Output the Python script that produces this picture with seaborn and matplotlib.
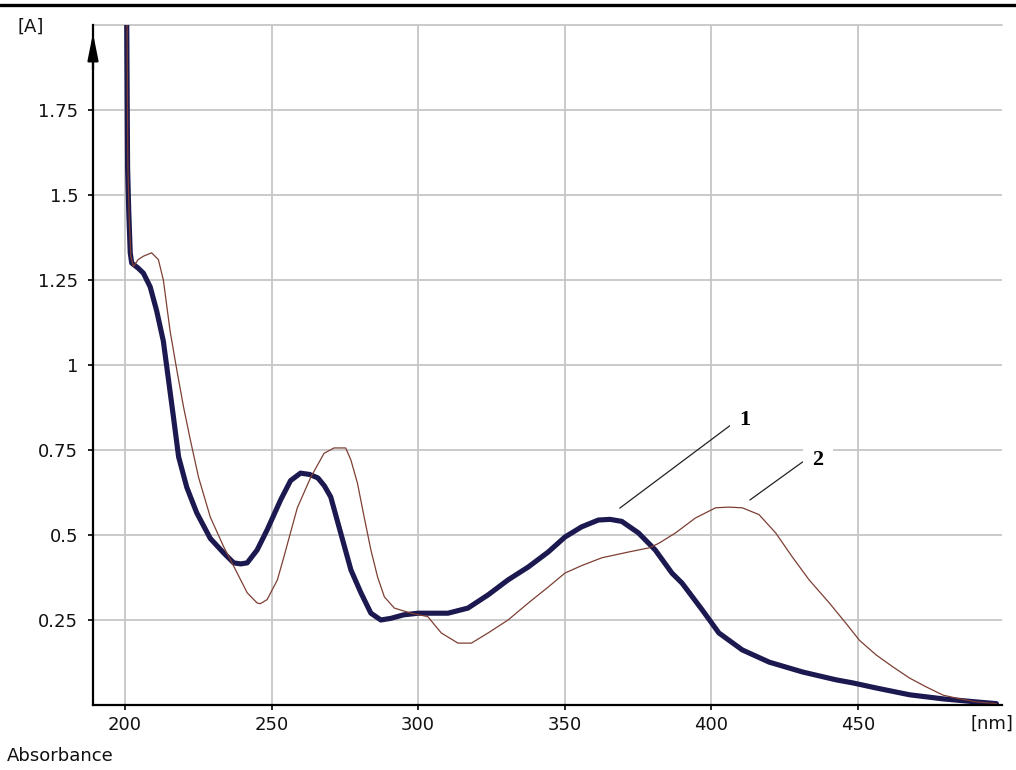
import numpy as np
import pandas as pd
import matplotlib
matplotlib.use("Agg")
import matplotlib.pyplot as plt
import seaborn as sns
from matplotlib.lines import Line2D

# ---- data ----
wl_1 = [200.6, 200.9, 201.3, 201.8, 202.3, 204.5, 206.3, 208.6, 210.8, 213.1,
        214.8, 216.5, 218.3, 221.1, 224.5, 229.1, 233.7, 237.1, 239.5, 241.7,
        245.1, 248.5, 253.1, 256.5, 259.9, 263.0, 265.8, 268.0, 270.2, 273.6,
        277.1, 280.5, 283.9, 287.3, 290.8, 295.0, 300.0, 305.0, 310.2, 317.0,
        323.9, 330.7, 337.6, 344.4, 350.1, 355.8, 361.5, 365.5, 369.5, 375.2,
        380.9, 386.6, 390.1, 396.9, 402.6, 410.6, 419.8, 431.2, 442.6, 448.3,
        456.3, 467.7, 479.1, 490.5, 497.3]
abs_1 = [2.02, 1.58, 1.45, 1.33, 1.30, 1.285, 1.27, 1.23, 1.16, 1.07,
         0.96, 0.85, 0.73, 0.64, 0.565, 0.49, 0.447, 0.418, 0.415, 0.418,
         0.456, 0.515, 0.603, 0.66, 0.682, 0.678, 0.668, 0.645, 0.612, 0.506,
         0.397, 0.33, 0.27, 0.25, 0.255, 0.265, 0.27, 0.27, 0.27, 0.285,
         0.324, 0.368, 0.406, 0.45, 0.494, 0.524, 0.544, 0.546, 0.54, 0.506,
         0.456, 0.388, 0.358, 0.28, 0.212, 0.162, 0.126, 0.097, 0.074, 0.065,
         0.05, 0.03, 0.018, 0.009, 0.004]

wl_2 = [200.7, 201.0, 201.5, 202.0, 202.9, 204.5, 206.3, 209.1, 211.4, 213.1,
        215.4, 217.7, 220.0, 222.3, 225.1, 229.1, 233.7, 238.3, 241.7, 245.1,
        246.2, 248.5, 252.0, 254.2, 258.8, 263.4, 267.9, 271.3, 275.3, 277.1,
        279.3, 281.6, 283.9, 286.2, 288.5, 291.9, 297.6, 303.3, 307.9, 313.6,
        318.2, 323.9, 330.7, 337.6, 344.4, 350.1, 355.8, 362.7, 371.8, 378.7,
        382.0, 387.8, 394.6, 401.5, 406.0, 410.6, 416.3, 422.0, 427.7, 433.4,
        440.3, 446.0, 450.6, 456.3, 462.0, 467.7, 473.4, 479.1, 484.8, 490.5,
        497.3]
abs_2 = [2.02, 1.58, 1.42, 1.32, 1.29, 1.31, 1.32, 1.33, 1.31, 1.25,
         1.10, 0.985, 0.876, 0.78, 0.67, 0.553, 0.465, 0.388, 0.33, 0.30,
         0.298, 0.31, 0.368, 0.435, 0.58, 0.67, 0.74, 0.756, 0.756, 0.72,
         0.653, 0.553, 0.456, 0.376, 0.318, 0.285, 0.27, 0.26, 0.212, 0.182,
         0.182, 0.212, 0.25, 0.30, 0.347, 0.388, 0.41, 0.433, 0.45, 0.462,
         0.475, 0.506, 0.55, 0.58, 0.582, 0.58, 0.56, 0.506, 0.435, 0.368,
         0.30, 0.24, 0.19, 0.147, 0.112, 0.079, 0.053, 0.029, 0.018, 0.009,
         0.004]

x_ticks = [200, 250, 300, 350, 400, 450]
x_tick_labels = ["200", "250", "300", "350", "400", "450"]
y_ticks = [0.25, 0.5, 0.75, 1.0, 1.25, 1.5, 1.75]
y_tick_labels = ["0.25", "0.5", "0.75", "1", "1.25", "1.5", "1.75"]
curve_labels = ["1", "2"]
label_xy = [(411.5, 0.838), (436.4, 0.72)]
leader_from = [(368.8, 0.579), (413.2, 0.603)]
leader_to = [(408.0, 0.832), (431.2, 0.715)]

# ---- style ----
sns.set_theme(style="white")
plt.rcParams['font.family'] = ['DejaVu Sans']

fig = plt.figure(figsize=(10.16, 7.70), dpi=100)
ax = fig.add_axes([93 / 1016, 1 - 705 / 770, (1002 - 93) / 1016, 680 / 770])
ax.set_facecolor("white")

df1 = pd.DataFrame({"wl": wl_1, "A": abs_1})
df2 = pd.DataFrame({"wl": wl_2, "A": abs_2})

sns.lineplot(data=df1, x="wl", y="A", ax=ax, color="#1c1850", lw=3.7,
             sort=False, estimator=None, zorder=3, solid_joinstyle="round",
             solid_capstyle="round")
sns.lineplot(data=df2, x="wl", y="A", ax=ax, color="#7d3f33", lw=0.9,
             sort=False, estimator=None, zorder=4)

ax.set_xlim(189.1, 499.2)
ax.set_ylim(0, 2.0)
ax.set_xticks(x_ticks)
ax.set_xticklabels(x_tick_labels)
ax.set_yticks(y_ticks)
ax.set_yticklabels(y_tick_labels)
ax.set_xlabel("")
ax.set_ylabel("")

ax.grid(True, color="#c6c6c6", lw=1.3, zorder=0)
ax.set_axisbelow(True)
ax.axhline(2.0, color="#c6c6c6", lw=1.3, clip_on=False, zorder=0)

for s in ["top", "right"]:
    ax.spines[s].set_visible(False)
for s in ["left", "bottom"]:
    ax.spines[s].set_color("black")
    ax.spines[s].set_linewidth(1.6)
    ax.spines[s].set_zorder(5)

ax.tick_params(axis="both", which="major", direction="out", length=3.6,
               width=1.2, color="black", labelsize=13, labelcolor="#111111",
               left=True, bottom=True)
ax.tick_params(axis="y", pad=7)
ax.tick_params(axis="x", pad=4.5)

# arrow at top of y axis
ax.annotate("", xy=(0, 0.992), xytext=(0, 0.93), xycoords="axes fraction",
            textcoords="axes fraction",
            arrowprops=dict(arrowstyle="-|>,head_length=0.9,head_width=0.18",
                            color="black", lw=1.6, mutation_scale=18),
            annotation_clip=False)

# curve labels with leader lines
for lab, (lx, ly), (fx, fy), (tx, ty) in zip(curve_labels, label_xy,
                                             leader_from, leader_to):
    ax.plot([fx, tx], [fy, ty], color="#222222", lw=0.9, zorder=6)
    ax.text(lx, ly, lab, fontsize=16, fontweight="bold",
            family=["Liberation Serif", "DejaVu Serif"], ha="center",
            va="center", color="black", zorder=7,
            bbox=dict(facecolor="white", edgecolor="none", pad=7))

# axis captions
fig.text(31 / 1016, 1 - 27 / 770, "[A]", fontsize=13, ha="center",
         va="center", color="#111111")
fig.text(992 / 1016, 1 - 724 / 770, "[nm]", fontsize=13, ha="center",
         va="center", color="#111111")
fig.text(7 / 1016, 1 - 756 / 770, "Absorbance", fontsize=13, ha="left",
         va="center", color="#111111")

# top border line
fig.add_artist(Line2D([0, 1], [1 - 5 / 770, 1 - 5 / 770], color="black",
                      lw=2.4, transform=fig.transFigure))

fig.savefig("out.png", dpi=100, facecolor="white")
